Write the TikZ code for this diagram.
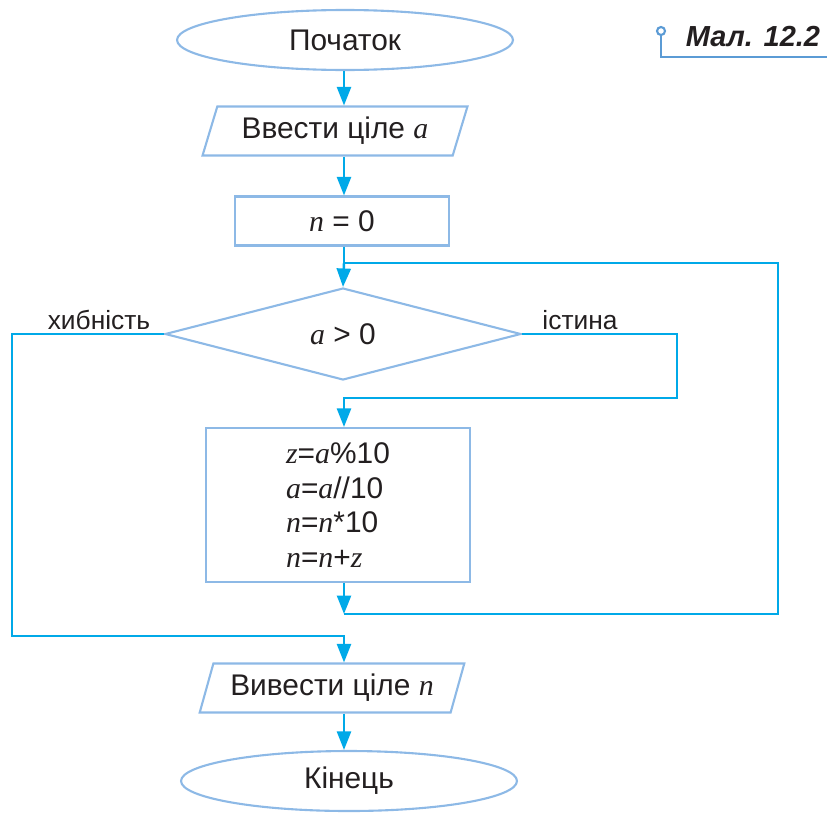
\documentclass[tikz,border=0pt]{standalone}
\usepackage{fontspec}
\setmainfont{Liberation Sans}
\newfontfamily\serifit{Liberation Serif}[ItalicFont={* Italic}]
\newcommand{\itv}[1]{{\serifit\itshape #1}}
\definecolor{shapeblue}{RGB}{141,185,230}
\definecolor{flowcyan}{RGB}{0,169,232}
\definecolor{pinblue}{RGB}{91,155,213}
\definecolor{inkgray}{RGB}{35,31,32}
\usetikzlibrary{arrows.meta,positioning,shapes.geometric,calc}

\begin{document}
\begin{tikzpicture}[x=0.02cm, y=-0.02cm,
  term/.style={ellipse, draw=shapeblue, line width=1.2pt, minimum width=6.72cm,
               minimum height=1.2cm, inner sep=0pt, font=\fontsize{17}{20}\selectfont, text=inkgray},
  iobox/.style={trapezium, trapezium left angle=67, trapezium right angle=113,
               trapezium stretches=true, draw=shapeblue, line width=1.2pt,
               minimum width=5.3cm, minimum height=0.98cm, inner sep=0pt,
               font=\fontsize{17}{20}\selectfont, text=inkgray},
  procbox/.style={rectangle, draw=shapeblue, line width=1.2pt,
               font=\fontsize{17}{20}\selectfont, text=inkgray},
  decbox/.style={diamond, draw=shapeblue, line width=1.2pt, minimum width=7.12cm,
               minimum height=1.84cm, inner sep=0pt,
               font=\fontsize{17}{20}\selectfont, text=inkgray},
  lbl/.style={font=\fontsize{15}{18}\selectfont, text=inkgray, inner sep=0pt},
  line/.style={draw=flowcyan, line width=1.4pt},
  arr/.style={line, -{Triangle[length=0.37cm, width=0.28cm]}}
]
\useasboundingbox (0,0) rectangle (827,818);

% Blocks
\node[term]  (start) at (345,40)  {Початок};
\node[iobox] (inA)   at (335,131) {Ввести ціле \itv{a}};
\node[procbox, minimum width=4.28cm, minimum height=0.98cm] (init) at (342,221) {\itv{n} = 0};
\node[decbox] (cond) at (343,334) {\itv{a} > 0};
\node[procbox, minimum width=5.28cm, minimum height=3.08cm, align=left,
      font=\fontsize{17}{19.8}\selectfont] (body) at (338,505)
  {\itv{z}=\itv{a}\%10\\ \itv{a}=\itv{a}//10\\ \itv{n}=\itv{n}*10\\ \itv{n}=\itv{n}+\itv{z}};
\node[iobox] (outN)  at (332,688) {Вивести ціле \itv{n}};
\node[term]  (stop)  at (349,781) {Кінець};

% Branch labels
\node[lbl] (no)  at (99,320)  {хибність};
\node[lbl] (yes) at (580,320) {істина};

% Figure caption
\node[font=\fontsize{16.5}{19}\selectfont\bfseries\itshape, text=inkgray, inner sep=0pt]
  (cap) at (753,37) {Мал. 12.2};
\node[circle, draw=pinblue, line width=1.2pt, minimum size=0.16cm, inner sep=0pt] (pin) at (661,31) {};

% Junctions
\coordinate (jtop) at (344,263);
\coordinate (jbot) at (344,614);
\coordinate (loopr) at (778,263);
\coordinate (yesr) at (677,398);
\coordinate (nol) at (12,636);
\coordinate (capr) at (827,57);

% Arrows
\draw[arr] (start.south -| jtop) -- (inA.north -| jtop);
\draw[arr] (inA.south -| jtop) -- (init.north -| jtop);
\draw[line] (init.south -| jtop) -- (jtop);
\draw[arr] (jtop) -- (cond.north);
\draw[arr] (cond.east) -| (yesr) -| (body.north -| jtop);
\draw[arr] (body.south -| jtop) -- (jbot);
\draw[line] (jbot) -| (loopr) -- (jtop);
\draw[arr] (cond.west) -| (nol) -| (outN.north -| jtop);
\draw[arr] (outN.south -| jtop) -- (stop.north -| jtop);
\draw[draw=pinblue, line width=1.4pt] (pin.south) |- (capr);
\end{tikzpicture}
\end{document}
